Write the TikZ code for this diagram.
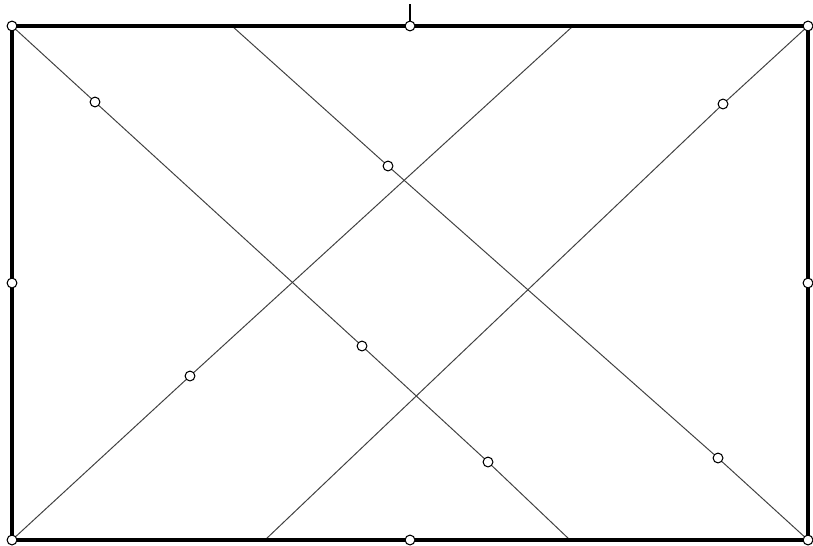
\documentclass[tikz,border=0pt]{standalone}
\usepackage{tikz}
\usetikzlibrary{positioning}
\tikzset{
handle/.style={
	circle,
	draw=black,
	fill=white,
	line width=0.75pt,
	minimum size=7pt,
	inner sep=0pt
},
frame/.style={
	draw=black,
	line width=2.6pt
},
guide/.style={
	draw=black!75,
	line width=0.7pt
}
}
\begin{document}
\begin{tikzpicture}[x=0.025cm, y=-0.025cm]
\useasboundingbox (0,0) rectangle (813,545);
% ===== Frame handles =====
\node (tl) [handle] at (12, 26)  {};
\node (tm) [handle] at (410, 26) {};
\node (tr) [handle] at (808, 26) {};
\node (ml) [handle] at (12, 283) {};
\node (mr) [handle] at (808, 283){};
\node (bl) [handle] at (12, 540) {};
\node (bm) [handle] at (410, 540){};
\node (br) [handle] at (808, 540){};
% ===== Free ends on the frame =====
\coordinate (topA) at (232, 26);
\coordinate (topB) at (573, 26);
\coordinate (botA) at (265, 540);
\coordinate (botB) at (570, 540);
\coordinate (tick) at (410, 4);
% ===== Handles on the guide lines =====
\node (a1) [handle] at (95, 102)  {};
\node (a2) [handle] at (362, 346) {};
\node (a3) [handle] at (488, 462) {};
\node (b1) [handle] at (388, 166) {};
\node (b2) [handle] at (718, 458) {};
\node (c1) [handle] at (190, 376) {};
\node (d1) [handle] at (723, 104) {};
% ===== Guide lines =====
\draw [guide] (tl)   -- (a1) -- (a2) -- (a3) -- (botB);
\draw [guide] (topA) -- (b1) -- (b2) -- (br);
\draw [guide] (bl)   -- (c1) -- (topB);
\draw [guide] (botA) -- (d1) -- (tr);
% ===== Frame =====
\draw [frame] (tl) -- (tm) -- (tr) -- (mr) -- (br) -- (bm) -- (bl) -- (ml) -- (tl);
\draw [line width=0.9pt] (tm) -- (tick);
\end{tikzpicture}
\end{document}
